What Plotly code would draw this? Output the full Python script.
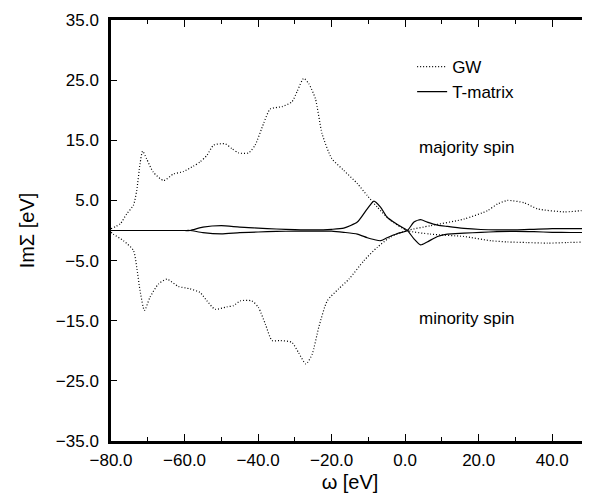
import plotly.graph_objects as go

# GW self-energy, majority spin
omega_gw_maj = [-80, -77.5, -75.7, -73.9, -73, -72.1, -71.4, -70.3, -68.5, -65.7, -63, -60.3,
                -57.6, -55.8, -53.9, -52.1, -48.9, -47.1, -45.3, -42.6, -40.8, -38.5, -36.7,
                -33.5, -30.8, -29.4, -27.6, -26.2, -24.4, -22.6, -20, -16.7, -13, -10.3, -7.6,
                -4, 0.5, 6.9, 16, 23.3, 27.8, 33, 38.7, 44, 50]
gw_maj = [0.3, 1.1, 2.8, 4.2, 6.7, 11.1, 13.2, 11.9, 9.7, 8.3, 9.4, 9.8,
          10.7, 11.4, 12.5, 14.2, 14.4, 13.6, 12.9, 12.9, 14.2, 17.8, 20.2,
          20.6, 21.4, 23.1, 25.3, 24.4, 21.9, 16.1, 12.0, 10.0, 7.8, 5.8, 3.9,
          1.7, 0.0, -0.6, -1.0, -1.7, -1.9, -2.0, -2.1, -2.0, -1.9]

# GW self-energy, minority spin
omega_gw_min = [-80, -79.4, -76.6, -73.9, -73, -72.1, -70.9, -69.4, -67.1, -64.8, -61.7, -58.5,
                -55.8, -53.9, -51.7, -48.5, -46.7, -44.8, -41.7, -39.9, -38, -36.2, -33.9,
                -30.8, -29, -27, -25.3, -23.5, -21.2, -18.1, -15.3, -11.2, -7.6, -4, 0.5,
                6.9, 16, 22.4, 25.1, 27.8, 32.4, 36, 43.3, 47.8, 50]
gw_min = [-0.3, -0.6, -1.7, -3.3, -6.1, -10.0, -13.3, -11.1, -8.9, -8.1, -9.3, -9.7,
          -10.3, -11.7, -13.1, -12.7, -12.5, -11.7, -11.7, -12.8, -15.6, -18.3, -18.3,
          -18.6, -20.3, -22.2, -20.6, -16.1, -11.7, -9.7, -8.1, -5.0, -2.8, -1.1, 0.0,
          0.8, 1.9, 3.3, 4.4, 5.0, 4.6, 3.6, 3.1, 3.3, 3.6]

# T-matrix self-energy
omega_t = [-80, -60, -58.5, -55, -50, -45, -40, -35, -30, -25, -20, -16.7, -13, -10.3,
           -8.5, -6.7, -4.9, -2.1, 0.6, 2.4, 4.2, 6.0, 8.8, 11.5, 16, 20.6, 25, 30, 35,
           40, 45, 50]
t_maj = [0, 0, 0, 0.55, 0.8, 0.55, 0.4, 0.25, 0.15, 0.1, 0.2, 0.4, 1.4, 3.6,
         4.9, 3.9, 2.2, 1.0, 0.0, -1.4, -2.4, -1.9, -1.0, -0.6, -0.45, -0.3, -0.2, -0.15, -0.2,
         -0.3, -0.33, -0.33]
t_min = [0, 0, 0, -0.35, -0.55, -0.35, -0.25, -0.15, -0.1, -0.1, -0.1, -0.3, -0.6, -1.2,
         -1.5, -1.7, -1.2, -0.5, 0.0, 1.4, 1.8, 1.4, 0.9, 0.67, 0.35, 0.17, 0.1, 0.1, 0.2,
         0.3, 0.3, 0.3]

x_ticks = [-80, -60, -40, -20, 0, 20, 40]
y_ticks = [-35, -25, -15, -5, 5, 15, 25, 35]

FONT = "Liberation Sans, Arial, Helvetica, sans-serif"
dotted = dict(color="black", width=1.2, dash="1px,2px", shape="spline", smoothing=0.6)
solid = dict(color="black", width=1.2, shape="spline", smoothing=0.6)

fig = go.Figure()
fig.add_trace(go.Scatter(x=omega_gw_maj, y=gw_maj, mode="lines", line=dotted,
                         name="GW", legendgroup="gw"))
fig.add_trace(go.Scatter(x=omega_gw_min, y=gw_min, mode="lines", line=dotted,
                         name="GW", legendgroup="gw", showlegend=False))
fig.add_trace(go.Scatter(x=omega_t, y=t_maj, mode="lines", line=solid,
                         name="T-matrix", legendgroup="t"))
fig.add_trace(go.Scatter(x=omega_t, y=t_min, mode="lines", line=solid,
                         name="T-matrix", legendgroup="t", showlegend=False))

# the page body has an 8px margin, so the figure is 8px smaller than the window
fig.update_layout(
    width=582, height=485,
    margin=dict(l=103, r=1, t=12, b=52),
    paper_bgcolor="white", plot_bgcolor="white",
    font=dict(family=FONT, size=17, color="black"),
    legend=dict(x=0.63, y=0.931, xanchor="left", yanchor="top",
                bgcolor="rgba(0,0,0,0)", font=dict(size=17), tracegroupgap=0),
    xaxis=dict(
        range=[-80, 50], tickvals=x_ticks, tickformat=".1f", automargin=False,
        ticks="inside", ticklen=7, tickwidth=1, tickcolor="black",
        minor=dict(dtick=10, tick0=-80, ticks="inside", ticklen=4, tickcolor="black"),
        showline=True, linewidth=2.5, linecolor="black", mirror="allticks",
        showgrid=False, zeroline=False, ticklabelstandoff=2,
        title=dict(text="ω [eV]", standoff=8),
    ),
    yaxis=dict(
        range=[-35, 35], tickvals=y_ticks, tickformat=".1f", automargin=False,
        ticks="inside", ticklen=6, tickwidth=1, tickcolor="black",
        showline=True, linewidth=2.5, linecolor="black", mirror="allticks",
        showgrid=False, zeroline=False, ticklabelstandoff=6,
        title=dict(text="ImΣ [eV]", standoff=16),
    ),
    annotations=[
        dict(x=16.8, y=13.8, xref="x", yref="y", text="majority spin",
             showarrow=False, font=dict(size=17)),
        dict(x=16.8, y=-14.7, xref="x", yref="y", text="minority spin",
             showarrow=False, font=dict(size=17)),
    ],
)

fig.write_html("out.html")
